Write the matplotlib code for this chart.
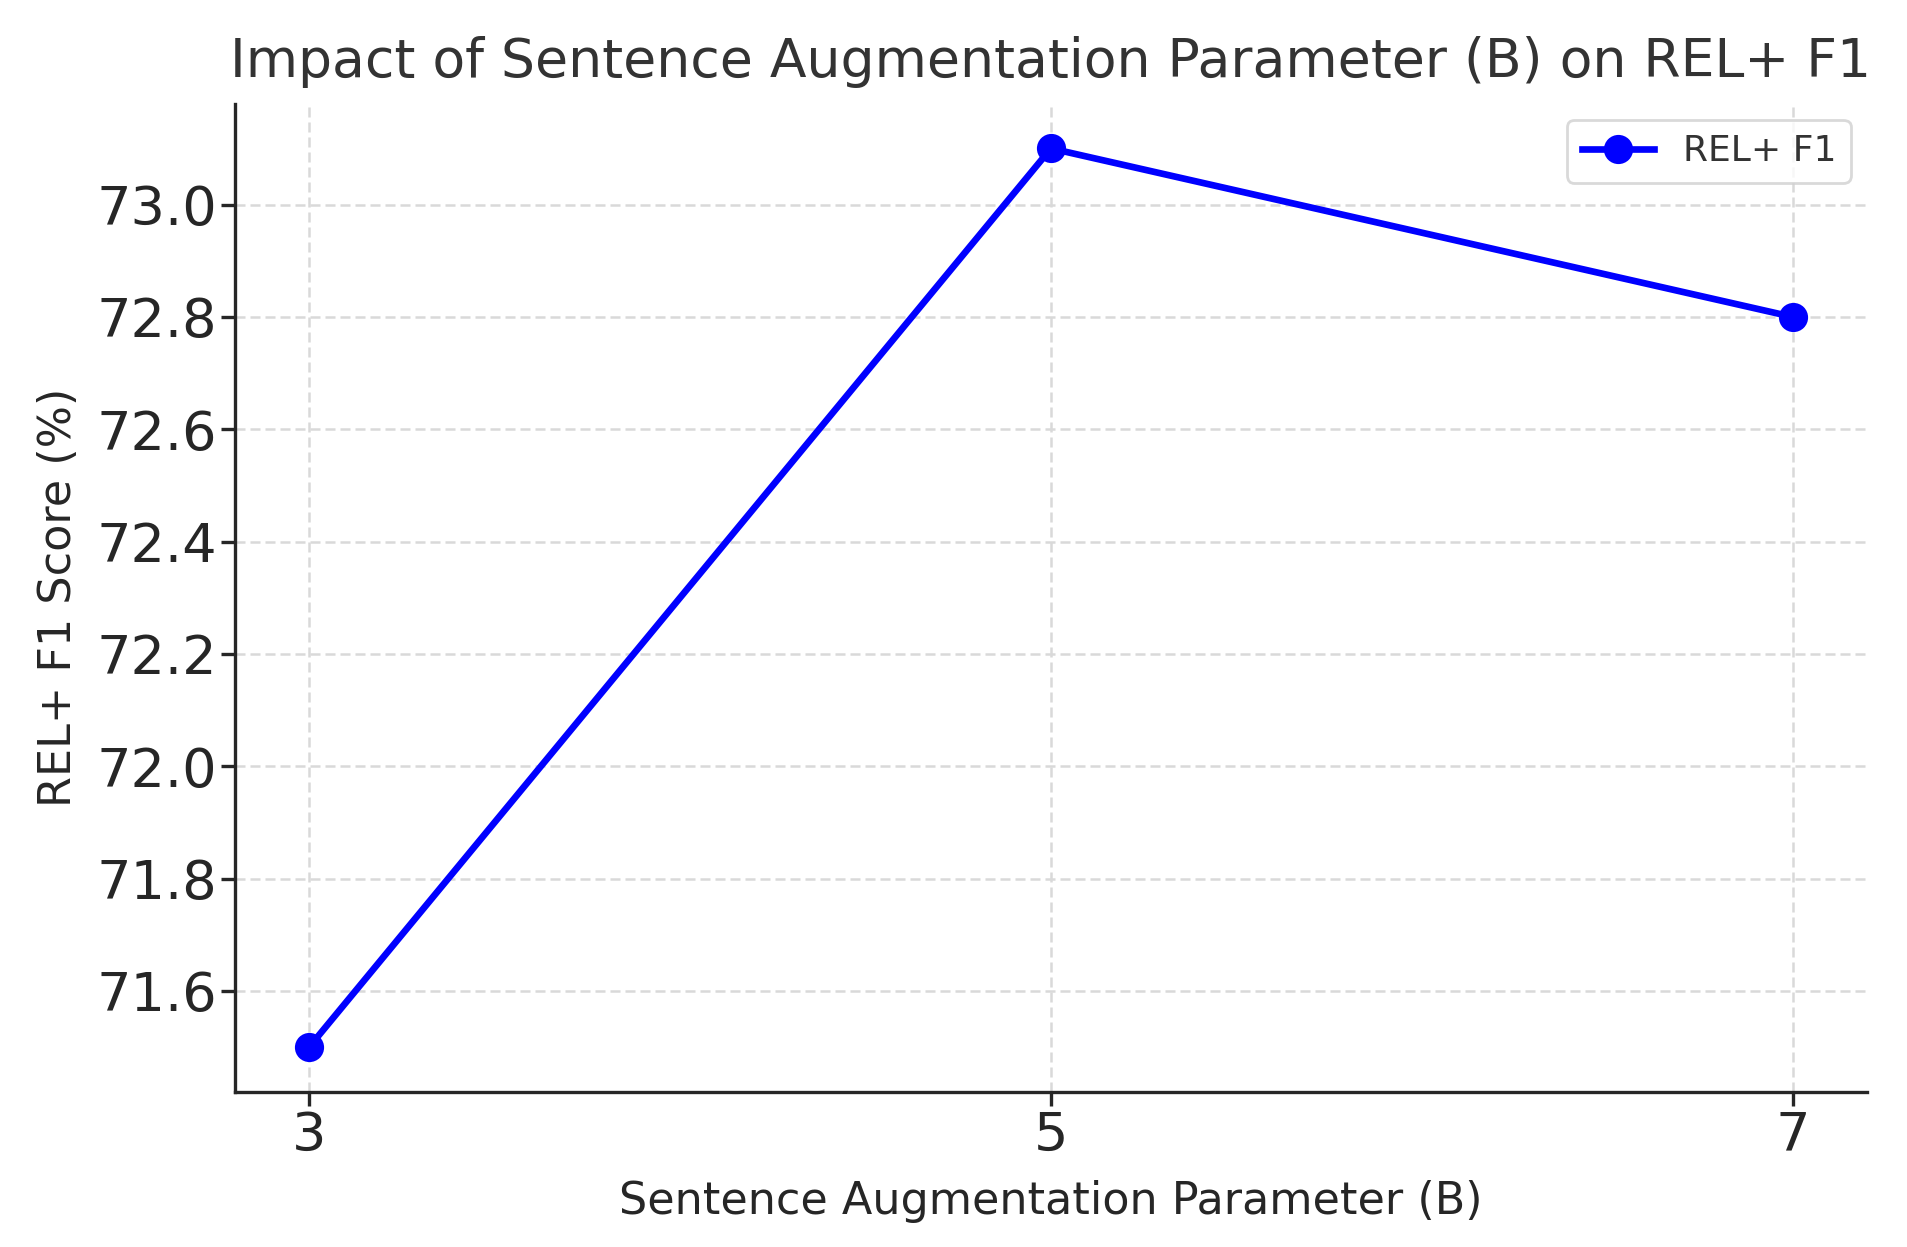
import matplotlib
matplotlib.use("Agg")
import matplotlib.pyplot as plt

B_values = [3, 5, 7]
rel_f1 = [71.5, 73.1, 72.8]
series_label = "REL+ F1"
title = "Impact of Sentence Augmentation Parameter (B) on REL+ F1"
xlabel = "Sentence Augmentation Parameter (B)"
ylabel = "REL+ F1 Score (%)"

plt.rcParams['font.family'] = ['DejaVu Sans']

fig = plt.figure(figsize=(1907/200, 1247/200), dpi=200)
ax = fig.add_axes([0.1232, 0.1243, 0.979-0.1232, 0.917-0.1243])

ax.plot(B_values, rel_f1, marker='o', color='blue', linewidth=2.4, markersize=9.5, label=series_label)

ax.set_xticks(B_values)
ax.set_yticks([71.6, 71.8, 72.0, 72.2, 72.4, 72.6, 72.8, 73.0])
ax.set_title(title, fontsize=19.3, color='#333333', pad=9.5)
ax.set_xlabel(xlabel, fontsize=16, color='#262626', labelpad=6.5)
ax.set_ylabel(ylabel, fontsize=16, color='#262626', labelpad=6)

ax.tick_params(axis='both', labelsize=19.5, colors='#262626', length=5.0, width=1.2,
               direction='out', pad=1.3)
for s in ['top', 'right']:
    ax.spines[s].set_visible(False)
for s in ['left', 'bottom']:
    ax.spines[s].set_linewidth(1.2)
    ax.spines[s].set_color('#262626')

ax.grid(True, linestyle=(0, (4, 2)), color='#d9d9d9', linewidth=0.9)
ax.set_axisbelow(True)

leg = ax.legend(loc='upper right', fontsize=13, frameon=True, fancybox=True, handlelength=2.0,
                borderaxespad=0.45)
leg.get_frame().set_edgecolor('#d0d0d0')
leg.get_frame().set_linewidth(1.0)
for t in leg.get_texts():
    t.set_color('#333333')

fig.savefig("out.png", dpi=200)
